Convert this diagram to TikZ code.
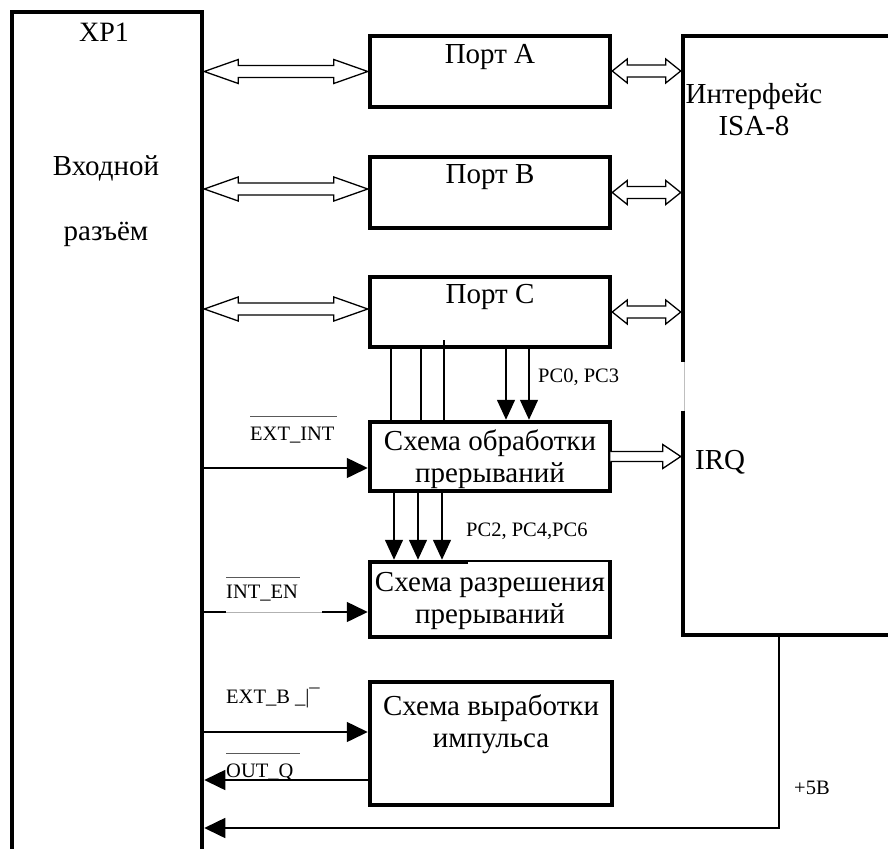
\documentclass[tikz,border=0pt]{standalone}
\usepackage{fontspec}
\setmainfont{Liberation Serif}
\usetikzlibrary{arrows.meta,calc}
\newcommand\dblarr[3]{%
  \draw[hollow] let \p1=#1, \p2=#2 in
   (\x1,\y1) -- (\x1+#3,\y1+12pt) -- (\x1+#3,\y1+6pt) -- (\x2-#3,\y1+6pt)
   -- (\x2-#3,\y1+12pt) -- (\x2,\y1) -- (\x2-#3,\y1-12pt) -- (\x2-#3,\y1-6pt)
   -- (\x1+#3,\y1-6pt) -- (\x1+#3,\y1-12pt) -- cycle;}
\tikzset{
  box/.style={draw, line width=4.5pt, inner sep=0pt},
  hollow/.style={draw, line width=1.3pt, line join=miter, fill=white},
  big/.style={font=\fontsize{29}{32}\selectfont, inner sep=0pt},
  small/.style={font=\fontsize{20.5}{24}\selectfont, inner sep=0pt},
  wire/.style={line width=1.5pt},
  sig/.style={line width=1.5pt, -{Triangle[length=21pt,width=20pt]}},
  pcarr/.style={line width=1.5pt, -{Triangle[length=20pt,width=18pt]}},
  ovl/.style={line width=1pt, black!65},
}
\begin{document}
\begin{tikzpicture}[x=1pt,y=-1pt]
\useasboundingbox (0,0) rectangle (888,848);
\fill[white] (0,0) rectangle (888,848);

% blocks
\node[box, minimum width=190pt, minimum height=858pt] (xp1) at (107,441) {};
\node[box, minimum width=240pt, minimum height=71pt] (portA) at (490,71.5) {};
\node[box, minimum width=240pt, minimum height=71pt] (portB) at (490,192.5) {};
\node[box, minimum width=240pt, minimum height=70pt] (portC) at (490,312) {};
\node[box, minimum width=240pt, minimum height=69pt] (proc) at (490,456.5) {};
\node[box, minimum width=240pt, minimum height=75pt] (enab) at (490,599.5) {};
\node[box, minimum width=242pt, minimum height=123pt] (pulse) at (491,743.5) {};
\node[box, minimum width=227pt, minimum height=599pt] (isa) at (796.5,335.5) {};
% gap in the ISA border
\draw[white, line width=6pt] (683,362) -- (683,411);
\draw[black!25, line width=0.6pt] (684.5,362) -- (684.5,411);
% thinner part of the enable block's top edge
\fill[white] (468,562.3) rectangle (607.6,564.6);

% texts of blocks
\node[font=\fontsize{28}{32}\selectfont, inner sep=0pt, anchor=base] (txp1) at (104,42) {XP1};
\node[big, anchor=base] (tin1) at (106,175) {Входной};
\node[big, anchor=base] (tin2) at (106,240) {разъём};
\node[big, anchor=base] (tA) at ([yshift=-30pt]portA.north) {Порт A};
\node[big, anchor=base] (tB) at ([yshift=-29pt]portB.north) {Порт B};
\node[big, anchor=base] (tC) at ([yshift=-29pt]portC.north) {Порт C};
\node[big, align=center] (tproc) at (490,459) {Схема обработки\\прерываний};
\node[big, align=center] (tenab) at (490,601) {Схема разрешения\\прерываний};
\node[big, align=center] (tpulse) at (491,724) {Схема выработки\\импульса};
\node[big, align=center] (tisa) at (754,110) {Интерфейс\\ISA-8};
\node[big, anchor=base west] (tirq) at (695,469) {IRQ};

% bus arrows
\dblarr{(xp1.east |- portA.west)}{(portA.west)}{34pt}
\dblarr{([yshift=3.5pt]xp1.east |- portB.west)}{([yshift=3.5pt]portB.west)}{34pt}
\dblarr{([yshift=3pt]xp1.east |- portC.west)}{([yshift=3pt]portC.west)}{34pt}
\dblarr{([yshift=0.5pt]portA.east)}{([yshift=0.5pt]isa.west |- portA.east)}{15pt}
\dblarr{(portB.east)}{(isa.west |- portB.east)}{15pt}
\dblarr{(portC.east)}{(isa.west |- portC.east)}{15pt}
\draw[hollow] let \p1=(proc.east), \p2=(isa.west |- proc.east) in
  (\x1-2pt,\y1+5pt) -- (\x2-18pt,\y1+5pt) -- (\x2-18pt,\y1+12pt) -- (\x2,\y1)
  -- (\x2-18pt,\y1-12pt) -- (\x2-18pt,\y1-5pt) -- (\x1-2pt,\y1-5pt);

% port C to interrupt block
\draw[wire] ([xshift=-99pt]portC.south) -- ([xshift=-99pt]proc.north);
\draw[wire] ([xshift=-69pt]portC.south) -- ([xshift=-69pt,yshift=-2pt]proc.north);
\draw[wire] ([xshift=-46pt,yshift=9pt]portC.south) -- ([xshift=-46pt]proc.north);
\draw[pcarr] ([xshift=16pt]portC.south) -- ([xshift=16pt]proc.north);
\draw[pcarr] ([xshift=39pt]portC.south) -- ([xshift=39pt]proc.north);
\node[small, anchor=base west] (lpc03) at (538,382) {PC0, PC3};

% interrupt block to enable block
\draw[pcarr] ([xshift=-96pt]proc.south) -- ([xshift=-96pt]enab.north);
\draw[pcarr] ([xshift=-72pt]proc.south) -- ([xshift=-72pt]enab.north);
\draw[pcarr] ([xshift=-48pt]proc.south) -- ([xshift=-48pt]enab.north);
\node[small, anchor=base west] (lpc246) at (466,536) {PC2, PC4,PC6};

% signals from / to connector
\coordinate (eint) at ([yshift=-11.5pt]proc.west);
\draw[sig] (xp1.east |- eint) -- (eint);
\node[small, anchor=base west] (lei) at (250,440) {EXT\_INT};
\draw[ovl] (250,416) -- (337,416);

\coordinate (ien) at ([yshift=-12.5pt]enab.west);
\draw[sig] (xp1.east |- ien) -- (ien);
\draw[white, line width=2.5pt] (226,612) -- (322,612);
\draw[black!30, line width=0.6pt] (226,612) -- (322,612);
\node[small, anchor=base west] (lie) at (226,598) {INT\_EN};
\draw[ovl] (226,577) -- (300,577);

\coordinate (extb) at ([yshift=11.5pt]pulse.west);
\draw[sig] (xp1.east |- extb) -- (extb);
\node[small, anchor=base west] (leb) at (226,703) {EXT\_B \_|¯};

\coordinate (outq) at ([yshift=-36.5pt]pulse.west);
\draw[sig] (outq) -- (xp1.east |- outq);
\node[small, anchor=base west] (loq) at (226,777) {OUT\_Q};
\draw[ovl] (226,753) -- (300,753);

% +5V supply
\coordinate (p5) at ([xshift=-17.5pt]isa.south);
\coordinate (p5c) at (779,828);
\draw[sig] (p5) -- (p5c) -- (xp1.east |- p5c);
\node[small, anchor=base west] (l5v) at (794,794) {+5В};
\end{tikzpicture}
\end{document}
